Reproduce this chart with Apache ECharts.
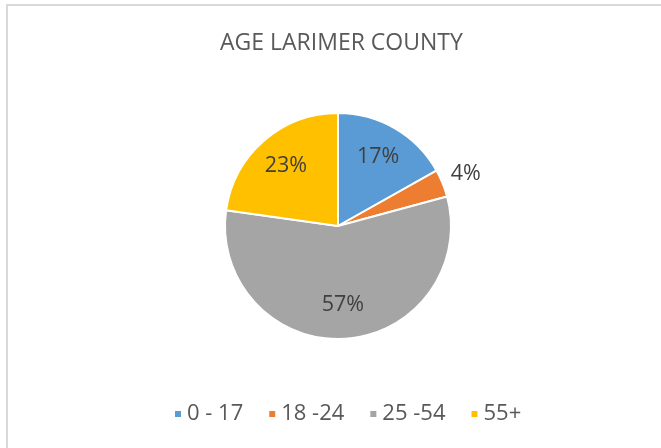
<!DOCTYPE html>
<html>
<head>
<meta charset="utf-8">
<script src="https://cdn.jsdelivr.net/npm/echarts@6/dist/echarts.min.js"></script>
<style>
html,body{margin:0;padding:0;background:#fff;overflow:hidden;}
#frame{position:absolute;left:6px;top:4px;width:700px;height:500px;border:2px solid #d9d9d9;box-sizing:border-box;}
#chart{position:absolute;left:0;top:0;width:661px;height:448px;}
</style>
</head>
<body>
<div id="frame"></div>
<div id="chart"></div>
<script>
const title = 'AGE LARIMER COUNTY';
const categories = ['0 - 17', '18 -24', '25 -54', '55+'];
const values = [17, 4, 57, 23];
const colors = ['#5B9BD5', '#ED7D31', '#A5A5A5', '#FFC000'];
const innerLabelItems = ['0 - 17', '25 -54', '55+'];
const outerLabelItems = ['18 -24'];

const chart = echarts.init(document.getElementById('chart'), null, {renderer: 'canvas'});
const font = '"Open Sans", Lato, sans-serif';
const center = [338, 226];

function mainData() {
  return categories.map((c, i) => ({name: c, value: values[i], itemStyle: {color: colors[i]}}));
}
function labelData(showList) {
  return categories.map((c, i) => ({
    name: c, value: values[i],
    itemStyle: {color: 'rgba(0,0,0,0)', borderWidth: 0},
    label: {show: showList.indexOf(c) >= 0}
  }));
}
const labelStyle = {position: 'inside', formatter: '{c}%', fontSize: 21.5, fontFamily: font, color: '#404040'};

chart.setOption({
  animation: false,
  title: {
    text: title, left: 215, top: 27,
    textStyle: {fontSize: 23, fontWeight: 'normal', fontFamily: font, color: '#595959'}
  },
  legend: {
    data: categories, left: 168, top: 398,
    icon: 'rect', itemWidth: 8, itemHeight: 8, itemGap: 24,
    textStyle: {fontSize: 22, fontFamily: font, color: '#595959'}
  },
  series: [
    {
      type: 'pie', center: center, radius: [0, 113], startAngle: 90, clockwise: true,
      silent: true, label: {show: false}, labelLine: {show: false},
      itemStyle: {borderColor: '#ffffff', borderWidth: 2},
      data: mainData()
    },
    {
      type: 'pie', center: center, radius: [40, 113], startAngle: 90, clockwise: true,
      silent: true, label: labelStyle, labelLine: {show: false},
      data: labelData(innerLabelItems)
    },
    {
      type: 'pie', center: center, radius: [120, 150], startAngle: 90, clockwise: true,
      silent: true, label: labelStyle, labelLine: {show: false},
      data: labelData(outerLabelItems)
    }
  ]
});
</script>
</body>
</html>
